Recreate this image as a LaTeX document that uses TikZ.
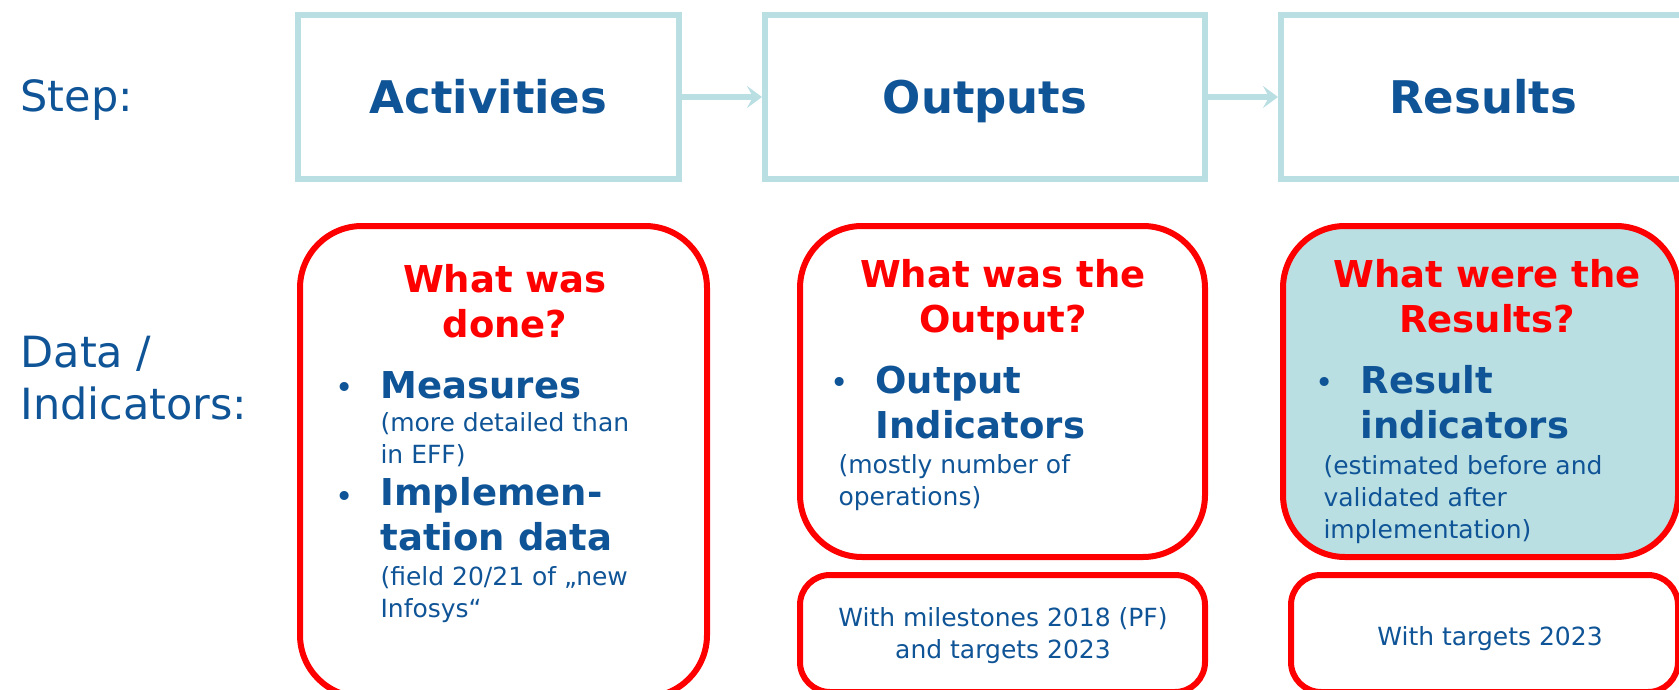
\documentclass[tikz,border=0pt]{standalone}
\usepackage{fontspec}
\setmainfont{DejaVu Sans}
\usepackage{xcolor}
\usepackage{tikz}
\usetikzlibrary{arrows.meta}

\definecolor{textblue}{HTML}{0F5496}
\definecolor{lightteal}{HTML}{BADFE3}
\definecolor{boxred}{HTML}{FF0000}

\begin{document}
\begin{tikzpicture}[x=1pt, y=-1pt,
  stepbox/.style={draw=lightteal, line width=6pt, minimum height=164pt, text height=34pt, text depth=0pt, text=textblue, font=\fontsize{45}{54}\selectfont\bfseries},
  databox/.style={draw=boxred, line width=6pt, rounded corners=62pt},
  flow/.style={draw=lightteal, line width=6pt, -{Stealth[length=15pt, width=22pt, inset=6pt]}},
  rowlabel/.style={anchor=base west, align=left, text=textblue, font=\fontsize{43}{52}\selectfont},
  question/.style={anchor=base, align=center, text=boxred, font=\fontsize{37}{45}\selectfont\bfseries},
  itemtext/.style={anchor=base west, align=left, text=textblue, font=\fontsize{37}{45}\selectfont\bfseries},
  bulletdot/.style={anchor=base, text=textblue, font=\fontsize{31}{40}\selectfont},
  notetext/.style={anchor=base west, align=left, text=textblue, font=\fontsize{25}{32}\selectfont}]
\useasboundingbox (0,0) rectangle (1679,690);
\clip (0,0) rectangle (1679,690);

% row labels (multi-line nodes sit on their last line)
\node[rowlabel] (steplbl) at (17,112) {Step:};
\node[rowlabel] (datalbl) at (17,419) {Data /\\Indicators:};

% steps
\node[stepbox, minimum width=381pt] (act) at (488.5,97) {Activities};
\node[stepbox, minimum width=440pt] (out) at (985,97) {Outputs};
\node[stepbox, minimum width=404pt] (res) at (1483,97) {Results};
\draw[flow] (act) -- (out);
\draw[flow] (out) -- (res);

% data boxes
\node[databox, minimum width=407pt, minimum height=471pt] (actdata) at (503.5,461.5) {};
\node[databox, minimum width=405pt, minimum height=331pt] (outdata) at (1002.5,391.5) {};
\node[databox, rounded corners=30pt, minimum width=405pt, minimum height=117pt] (outgoal) at (1002.5,633.5) {};
\node[databox, fill=lightteal, minimum width=395pt, minimum height=331pt] (resdata) at (1480.5,391.5) {};
\node[databox, rounded corners=30pt, minimum width=387pt, minimum height=117pt] (resgoal) at (1484.5,633.5) {};

% activities
\node[question] (actq) at (505,337) {What was\\done?};
\node[bulletdot] (actb1) at (345,398) {•};
\node[itemtext] (acti1) at (377,398) {Measures};
\node[notetext] (actn1) at (377,463) {(more detailed than\\in EFF)};
\node[bulletdot] (actb2) at (345,507) {•};
\node[itemtext] (acti2) at (377,550) {Implemen-\\tation data};
\node[notetext] (actn2) at (377,617) {(field 20/21 of „new\\Infosys“};

% outputs
\node[question] (outq) at (1003,332) {What was the\\Output?};
\node[bulletdot] (outb1) at (840,393) {•};
\node[itemtext] (outi1) at (872,438) {Output\\Indicators};
\node[notetext] (outn1) at (835,505) {(mostly number of\\operations)};
\node[notetext, anchor=base, align=center] (outg) at (1003,658) {With milestones 2018 (PF)\\and targets 2023};

% results
\node[question] (resq) at (1487,332) {What were the\\Results?};
\node[bulletdot] (resb1) at (1325,393) {•};
\node[itemtext] (resi1) at (1357,438) {Result\\indicators};
\node[notetext] (resn1) at (1320,538) {(estimated before and\\validated after\\implementation)};
\node[notetext, anchor=base, align=center] (resg) at (1490,645) {With targets 2023};

\end{tikzpicture}
\end{document}
